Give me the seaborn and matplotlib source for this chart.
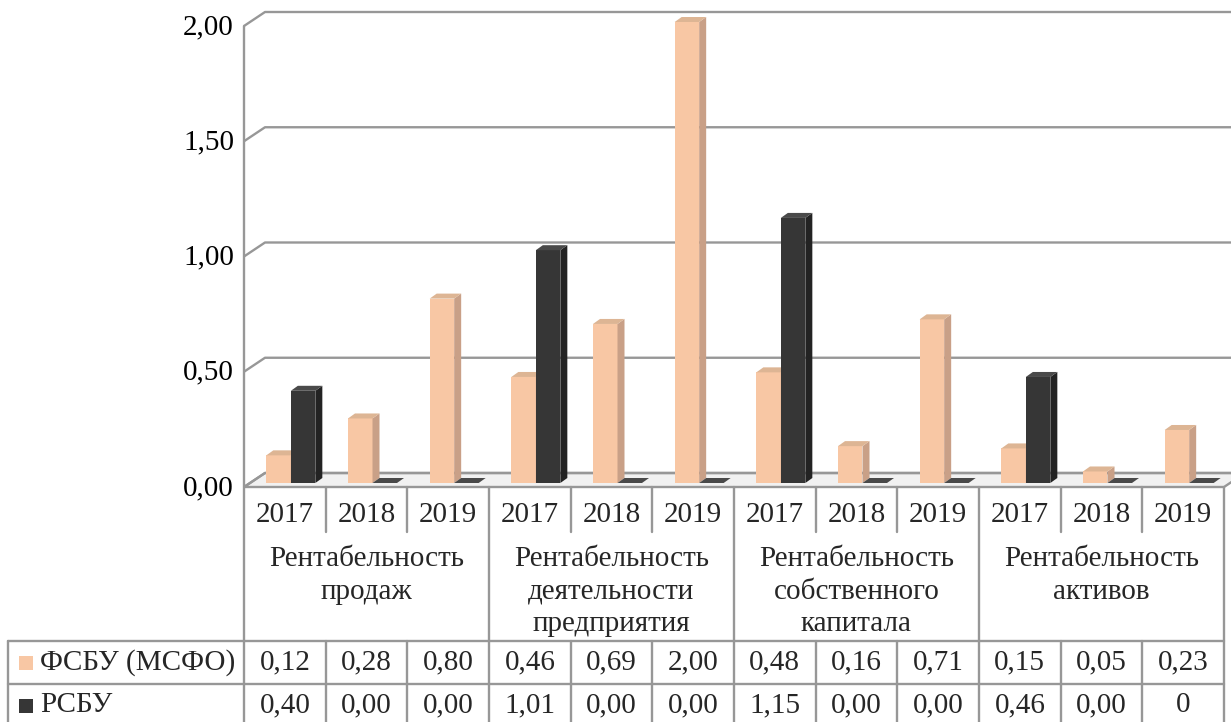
import numpy as np
import pandas as pd
import matplotlib
matplotlib.use("Agg")
import matplotlib.pyplot as plt
import seaborn as sns
from matplotlib.patches import Polygon, Rectangle
from matplotlib.transforms import IdentityTransform

# ---- data -------------------------------------------------------------
groups = [
    "Рентабельность\nпродаж",
    "Рентабельность\nдеятельности\nпредприятия",
    "Рентабельность\nсобственного\nкапитала",
    "Рентабельность\nактивов",
]
years = ["2017", "2018", "2019"]
series = ["ФСБУ (МСФО)", "РСБУ"]
fsbu = [0.12, 0.28, 0.80, 0.46, 0.69, 2.00, 0.48, 0.16, 0.71, 0.15, 0.05, 0.23]
rsbu = [0.40, 0.00, 0.00, 1.01, 0.00, 0.00, 1.15, 0.00, 0.00, 0.46, 0.00, 0.00]
# decimals shown in the data table for each cell
fsbu_decimals = [2] * 12
rsbu_decimals = [2] * 11 + [0]
yticks = [0.0, 0.5, 1.0, 1.5, 2.0]

# ---- style ------------------------------------------------------------
PEACH = "#F8C7A4"
PEACH_SIDE = "#C9A087"
PEACH_TOP = "#DDB594"
DARK = "#363636"
DARK_SIDE = "#232323"
DARK_TOP = "#4A4A4A"
LINE = "#979797"
LW = 1.7
FS = 21

sns.set_theme(style="white")
plt.rcParams["font.family"] = ["Liberation Serif", "DejaVu Serif"]

W, H = 1231, 722
fig = plt.figure(figsize=(W / 100, H / 100), dpi=100)

# full-figure canvas in image pixel coordinates (walls, floor, table)
cv = fig.add_axes([0, 0, 1, 1], zorder=0)
cv.set_xlim(0, W)
cv.set_ylim(H, 0)
cv.axis("off")

# bar plane axes
ax = fig.add_axes([250 / W, (H - 483) / H, 980 / W, (483 - 22) / H], zorder=1)

cols = [f"{gi}-{y}" for gi in range(len(groups)) for y in years]
df = pd.DataFrame({
    "col": cols * 2,
    "value": fsbu + rsbu,
    "series": [series[0]] * len(cols) + [series[1]] * len(cols),
})
sns.barplot(data=df, x="col", y="value", hue="series", order=cols,
            hue_order=series, palette=[PEACH, DARK], width=0.6,
            saturation=1, linewidth=0, legend=False, ax=ax)
ax.set_xlim(-0.5, len(cols) - 0.5)
ax.set_ylim(0, 2)
ax.set_facecolor("none")
ax.axis("off")

# depth offsets (image px, y downward) of the front and back planes
FRONT = (-6, 4)
BACK = (15, -10)


def to_img(x, y, plane=(0, 0)):
    X, Y = ax.transData.transform((x, y))
    return X + plane[0], H - Y + plane[1]


x_lo, x_hi = -0.5, len(cols) - 0.5

# floor slab
fl = [to_img(x_lo, 0, FRONT), to_img(x_hi, 0, FRONT),
      to_img(x_hi, 0, BACK), to_img(x_lo, 0, BACK)]
cv.add_patch(Polygon(fl, closed=True, facecolor="#F1F1F1",
                     edgecolor=LINE, linewidth=LW, zorder=1))

# back-wall gridlines with the side-wall diagonal
for v in yticks:
    fx, fy = to_img(x_lo, v, FRONT)
    bx, by = to_img(x_lo, v, BACK)
    ex, ey = to_img(x_hi, v, BACK)
    cv.plot([fx, bx, W + 5], [fy, by, ey], color=LINE, lw=LW,
            solid_capstyle="butt", zorder=2)

# y tick labels on the front plane
for v in yticks:
    fx, fy = to_img(x_lo, v, FRONT)
    cv.text(fx - 10, fy + 1, f"{v:.2f}".replace(".", ","), ha="right",
            va="center", fontsize=FS, color="black")

# 3-D faces of the bars
DX, DY = 7, 5
face_cols = [(PEACH_SIDE, PEACH_TOP), (DARK_SIDE, DARK_TOP)]
for k, cont in enumerate(ax.containers):
    side_c, top_c = face_cols[k]
    for p in cont.patches:
        p.set_zorder(2 + 2 * k)
        x0, w, h = p.get_x(), p.get_width(), p.get_height()
        (ax0, ay0) = ax.transData.transform((x0, 0))
        (ax1, ay1) = ax.transData.transform((x0 + w, h))
        side = [(ax1, ay0), (ax1, ay1), (ax1 + DX, ay1 + DY), (ax1 + DX, ay0 + DY)]
        top = [(ax0, ay1), (ax1, ay1), (ax1 + DX, ay1 + DY), (ax0 + DX, ay1 + DY)]
        ax.add_patch(Polygon(side, closed=True, facecolor=side_c, edgecolor="none",
                             transform=IdentityTransform(), clip_on=False,
                             zorder=2.5 + 2 * k))
        ax.add_patch(Polygon(top, closed=True, facecolor=top_c, edgecolor="none",
                             transform=IdentityTransform(), clip_on=False,
                             zorder=2.6 + 2 * k))

# ---- data table --------------------------------------------------------
n = len(cols)
left_x, _ = to_img(x_lo, 0, FRONT)
right_x, floor_y = to_img(x_hi, 0, FRONT)
cw = (right_x - left_x) / n
edges = [left_x + i * cw for i in range(n + 1)]
centers = [left_x + (i + 0.5) * cw for i in range(n)]

year_bot = 532
row1_top, row2_top, row_bot = 641, 684, 727
table_left = 8

# front-left wall edge continuing into the table
top_x, top_y = to_img(x_lo, 2.0, FRONT)
cv.plot([left_x, left_x], [top_y, H + 5], color=LINE, lw=LW, zorder=3)
for i in range(1, n + 1):
    if i % 3 == 0:
        cv.plot([edges[i], edges[i]], [floor_y, H + 5], color=LINE, lw=LW, zorder=3)
    else:
        cv.plot([edges[i], edges[i]], [floor_y, year_bot], color=LINE, lw=LW, zorder=3)
        cv.plot([edges[i], edges[i]], [row1_top, H + 5], color=LINE, lw=LW, zorder=3)
for yy in (row1_top, row2_top, row_bot):
    cv.plot([table_left, edges[-1]], [yy, yy], color=LINE, lw=LW, zorder=3)
cv.plot([table_left, table_left], [row1_top, H + 5], color=LINE, lw=LW, zorder=3)

for i, c in enumerate(centers):
    cv.text(c, 515, years[i % 3], ha="center", va="center", fontsize=FS)
for g, name in enumerate(groups):
    gc = left_x + (3 * g + 1.5) * cw
    cv.text(gc, 546, name, ha="center", va="top", fontsize=FS,
            linespacing=1.33)


def fmt(v, d):
    return f"{v:.{d}f}".replace(".", ",")


row_y = [(row1_top + row2_top) / 2, (row2_top + row_bot) / 2]
for r, (vals, decs, col) in enumerate([(fsbu, fsbu_decimals, PEACH),
                                        (rsbu, rsbu_decimals, DARK)]):
    y = row_y[r]
    cv.add_patch(Rectangle((19, y - 7), 14, 14, facecolor=col, edgecolor="none", zorder=4))
    cv.text(40, y, series[r], ha="left", va="center", fontsize=FS)
    for i, c in enumerate(centers):
        cv.text(c, y, fmt(vals[i], decs[i]), ha="center", va="center", fontsize=FS)

fig.savefig("out.png", dpi=100)
